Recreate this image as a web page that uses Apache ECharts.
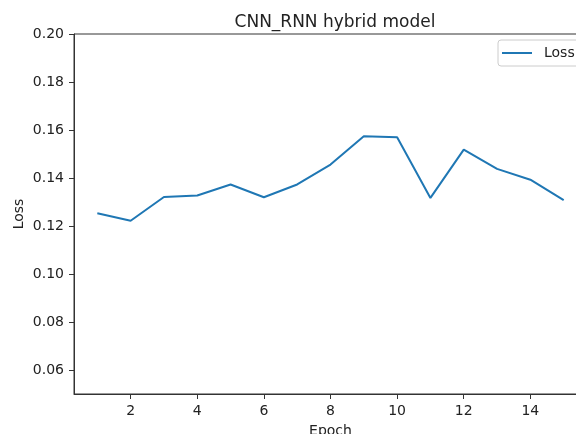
<!DOCTYPE html>
<html>
<head>
<meta charset="utf-8">
<script src="https://cdn.jsdelivr.net/npm/echarts@6/dist/echarts.min.js"></script>
<style>
  html, body { margin: 0; padding: 0; background: #fff; }
  #main { width: 576px; height: 434px; }
</style>
</head>
<body>
<div id="main"></div>
<script>
// data
var epochs = [1, 2, 3, 4, 5, 6, 7, 8, 9, 10, 11, 12, 13, 14, 15];
var loss = [0.1253, 0.1222, 0.1321, 0.1327, 0.1373, 0.1320, 0.1373, 0.1456,
            0.1574, 0.1570, 0.1317, 0.1518, 0.1438, 0.1393, 0.1308];
var xTicks = [2, 4, 6, 8, 10, 12, 14];
var yTicks = [0.06, 0.08, 0.10, 0.12, 0.14, 0.16, 0.18, 0.20];

var myChart = echarts.init(document.getElementById('main'));
var font = 'DejaVu Sans';
var option = {
    animation: false,
    backgroundColor: '#fff',
    title: {
        text: 'CNN_RNN hybrid model',
        left: 330,
        textAlign: 'center',
        top: 9,
        textStyle: { fontFamily: font, fontSize: 17, fontWeight: 'normal', color: '#222' }
    },
    legend: {
        data: ['Loss'],
        left: 498,
        top: 40,
        icon: 'rect',
        itemWidth: 30,
        itemHeight: 2,
        itemGap: 0,
        padding: [6, 12, 6, 4],
        borderColor: '#ccc',
        borderWidth: 1,
        borderRadius: 3,
        textStyle: { fontFamily: font, fontSize: 14, color: '#222', padding: [0, 0, 0, 7] }
    },
    grid: {
        left: 74, right: -11, top: 34, bottom: 40,
        containLabel: false,
        outerBoundsMode: 'none',
        show: true,
        borderColor: '#333',
        borderWidth: 1
    },
    xAxis: {
        type: 'value',
        min: 0.3,
        max: 15.7,
        name: 'Epoch',
        nameLocation: 'middle',
        nameGap: 30,
        nameMoveOverlap: false,
        nameTextStyle: { fontFamily: font, fontSize: 14, color: '#222' },
        axisLine: { lineStyle: { color: '#333' } },
        axisTick: { show: true, length: 5, customValues: xTicks, lineStyle: { color: '#333' } },
        axisLabel: { customValues: xTicks, fontFamily: font, fontSize: 14, color: '#222', margin: 10 },
        splitLine: { show: false }
    },
    yAxis: {
        type: 'value',
        min: 0.05,
        max: 0.2,
        name: 'Loss',
        nameLocation: 'middle',
        nameGap: 48,
        nameMoveOverlap: false,
        nameTextStyle: { fontFamily: font, fontSize: 14, color: '#222' },
        axisLine: { show: true, lineStyle: { color: '#333' } },
        axisTick: { show: true, length: 5, customValues: yTicks, lineStyle: { color: '#333' } },
        axisLabel: {
            customValues: yTicks, fontFamily: font, fontSize: 14, color: '#222', margin: 10,
            formatter: function (v) { return v.toFixed(2); }
        },
        splitLine: { show: false }
    },
    series: [{
        name: 'Loss',
        type: 'line',
        data: epochs.map(function (e, i) { return [e, loss[i]]; }),
        showSymbol: false,
        symbol: 'none',
        lineStyle: { color: '#1f77b4', width: 2 },
        itemStyle: { color: '#1f77b4' }
    }]
};
myChart.setOption(option);
</script>
</body>
</html>
